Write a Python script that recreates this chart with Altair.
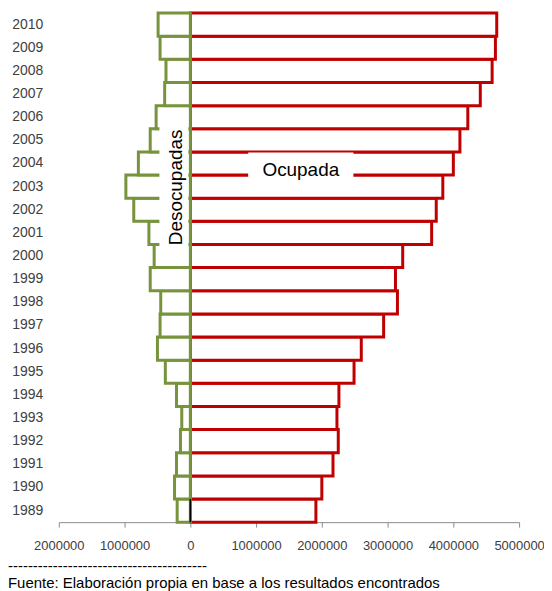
import altair as alt
import pandas as pd

years = list(range(1989, 2011))
ocupada = [1910000, 2000000, 2170000, 2250000, 2230000, 2260000, 2490000, 2600000,
           2940000, 3150000, 3120000, 3230000, 3670000, 3740000, 3840000, 4000000,
           4100000, 4220000, 4410000, 4590000, 4640000, 4660000]
desocupada = [200000, 240000, 210000, 150000, 130000, 210000, 380000, 500000,
              460000, 450000, 610000, 550000, 630000, 860000, 980000, 790000,
              610000, 520000, 390000, 370000, 460000, 490000]
x_ticks = [-2000000, -1000000, 0, 1000000, 2000000, 3000000, 4000000, 5000000]
label_des = "Desocupadas"
label_ocu = "Ocupada"
footer_line = "-" * 40
footer_text = "Fuente: Elaboración propia en base a los resultados encontrados"

FONT = "Liberation Sans"
RED = "#C00000"
GREEN = "#77933C"
TXT = "#404040"

df = pd.DataFrame({
    "year": years,
    "ocupada": ocupada,
    "desocupada": [-v for v in desocupada],
})

W, H = 462, 511

xscale = alt.Scale(domain=[x_ticks[0], x_ticks[-1]], nice=False)
yenc = alt.Y(
    "year:O", sort="descending",
    scale=alt.Scale(paddingInner=0, paddingOuter=0),
    axis=alt.Axis(title=None, domain=False, ticks=False, labelPadding=16,
                  labelFontSize=14, labelColor=TXT, labelFont=FONT),
)
xaxis = alt.Axis(
    title=None, values=x_ticks, grid=False,
    labelExpr="format(abs(datum.value), 'd')",
    labelFontSize=13, labelColor=TXT, labelFont=FONT,
    domainColor="#8C8C8C", tickColor="#8C8C8C", tickSize=5, labelPadding=12,
    labelOverlap=False, labelFlush=False,
)

base = alt.Chart(df)

red = base.mark_bar(fill="white", stroke=RED, strokeWidth=3).encode(
    x=alt.X("ocupada:Q", scale=xscale, axis=xaxis), y=yenc)
green = base.mark_bar(fill="white", stroke=GREEN, strokeWidth=3).encode(
    x=alt.X("desocupada:Q", scale=xscale), y=yenc)

zero_df = pd.DataFrame({"year": [years[0]], "z": [0]})
zero_line = alt.Chart(zero_df).mark_bar(fill="transparent", stroke="black", strokeWidth=1.5).encode(
    x=alt.X("z:Q", scale=xscale), x2=alt.X2("z:Q"), y=yenc)

box_df = pd.DataFrame({"a": [1]})
box_des = alt.Chart(box_df).mark_rect(fill="white").encode(
    x=alt.datum(-470000, scale=xscale), x2=alt.datum(-30000),
    y=alt.value(95), y2=alt.value(254))
box_ocu = alt.Chart(box_df).mark_rect(fill="white").encode(
    x=alt.datum(880000), x2=alt.datum(2480000),
    y=alt.value(140), y2=alt.value(174))

txt_des = alt.Chart(pd.DataFrame({"t": [label_des]})).mark_text(
    angle=270, fontSize=19, font=FONT, color="black", align="center", baseline="middle"
).encode(x=alt.datum(-210000), y=alt.value(175), text="t:N")
txt_ocu = alt.Chart(pd.DataFrame({"t": [label_ocu]})).mark_text(
    fontSize=19, font=FONT, color="black", align="center", baseline="middle"
).encode(x=alt.datum(1680000), y=alt.value(158), text="t:N")

foot1 = alt.Chart(pd.DataFrame({"t": [footer_line]})).mark_text(
    fontSize=15, font=FONT, color="black", align="left", baseline="middle"
).encode(x=alt.value(-51), y=alt.value(555), text="t:N")
foot2 = alt.Chart(pd.DataFrame({"t": [footer_text]})).mark_text(
    fontSize=15, font=FONT, color="black", align="left", baseline="middle"
).encode(x=alt.value(-51), y=alt.value(572), text="t:N")

chart = alt.layer(
    red, green, zero_line, box_des, box_ocu, txt_des, txt_ocu, foot1, foot2
).properties(
    width=W, height=H,
    autosize=alt.AutoSizeParams(type="none"),
    padding={"left": 51, "top": 4, "right": 25, "bottom": 68},
    background="white",
).configure_view(stroke=None)

chart.save("out.html", embed_options={"renderer": "svg", "actions": False})
